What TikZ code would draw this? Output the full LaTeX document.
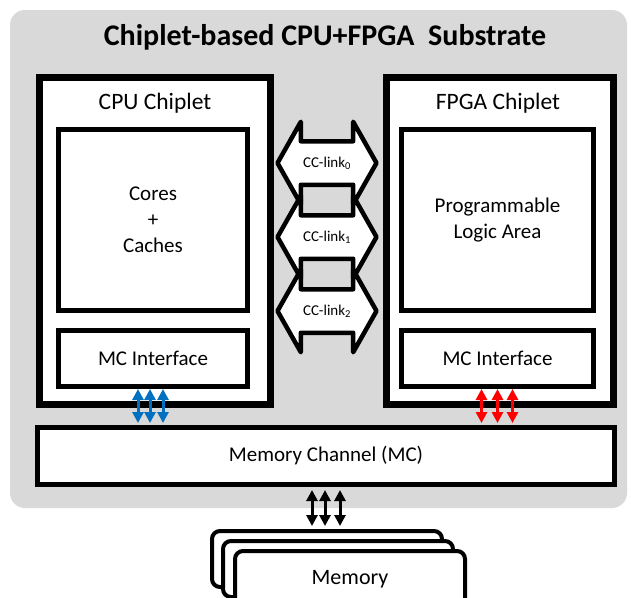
\documentclass[tikz,border=0pt]{standalone}
\usepackage{fontspec}
\setmainfont{Carlito}
\usetikzlibrary{shapes.arrows,arrows.meta,calc}
\definecolor{substrate}{RGB}{217,217,217}
\definecolor{mcblue}{RGB}{0,112,192}

\begin{document}
\begin{tikzpicture}[x=1pt,y=-1pt,
    chiplet/.style={draw, line width=7pt, fill=white, minimum width=231pt, minimum height=327pt},
    block/.style={draw, line width=5pt, fill=white, align=center, font=\fontsize{21}{26}\selectfont},
    header/.style={font=\fontsize{23.5}{28}\selectfont},
    cclink/.style={double arrow, draw, fill=white, line width=4.5pt, line join=round,
        minimum height=99pt, double arrow head extend=19.5pt, double arrow tip angle=121,
        inner xsep=1pt, inner ysep=12.5pt, text height=11pt, text depth=3pt,
        font=\fontsize{15}{18}\selectfont},
    membox/.style={draw, line width=4pt, fill=white, rounded corners=8pt,
        minimum width=230pt, minimum height=56pt, anchor=north west,
        font=\fontsize{22}{26}\selectfont},
    busarrow/.style={line width=3pt, {Triangle[width=11pt,length=11pt]}-{Triangle[width=11pt,length=11pt]}}]

    \clip (0,0) rectangle (631,597);

    \node[fill=substrate, rounded corners=15pt, minimum width=617pt, minimum height=498pt] (substrate) at (318.5,259) {};
    \node[font=\fontsize{30}{36}\selectfont\bfseries] (title) at (325,37) {Chiplet-based CPU+FPGA\ \ Substrate};

    \node[chiplet] (cpu) at (155,241) {};
    \node[header] (cpuname) at (155,103) {CPU Chiplet};
    \node[block, minimum width=189pt, minimum height=181pt] (cores) at (153,220) {Cores\\+\\Caches};
    \node[block, minimum width=189pt, minimum height=56pt] (cpumc) at (153,358.5) {MC Interface};

    \node[chiplet, minimum width=227pt] (fpga) at (500,241) {};
    \node[header] (fpganame) at (498,103) {FPGA Chiplet};
    \node[block, minimum width=192pt, minimum height=181pt] (logic) at (497.5,220) {Programmable\\Logic Area};
    \node[block, minimum width=192pt, minimum height=56pt] (fpgamc) at (497.5,358.5) {MC Interface};

    \node[block, minimum width=577pt, minimum height=57pt] (mc) at (326,456) {Memory Channel (MC)};

    \foreach \i/\y in {0/163,1/237,2/311}
        \node[cclink] (link\i) at (327,\y) {CC-link\textsubscript{\i}};

    \foreach \dx in {-15,-3,10}
        \draw[busarrow, mcblue, shorten >=2pt] ($(cpumc.south)+(\dx,0)$) -- ($(cpumc.south |- mc.north)+(\dx,0)$);
    \foreach \dx in {-16,0,15}
        \draw[busarrow, red, shorten >=2pt] ($(fpgamc.south)+(\dx,0)$) -- ($(fpgamc.south |- mc.north)+(\dx,0)$);

    \node[membox] (mem1) at (210,529) {};
    \node[membox] (mem2) at (221,539) {};
    \node[membox] (mem3) at (233,549) {Memory};

    \foreach \dx in {-14,-1,14}
        \draw[busarrow, shorten <=3pt, shorten >=3pt] ($(mc.south)+(\dx,0)$) -- ($(mc.south |- mem1.north)+(\dx,0)$);
\end{tikzpicture}
\end{document}
